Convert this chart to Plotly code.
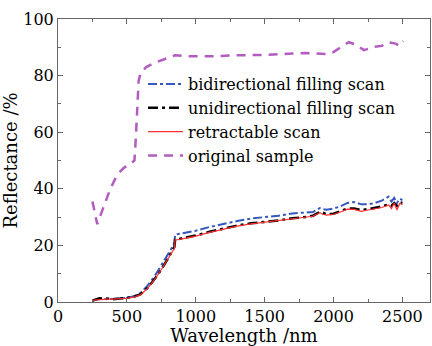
import plotly.graph_objects as go

# ---- data ----
wl_scan = [250, 280, 300, 350, 400, 450, 500, 550, 600, 650, 700, 750, 800, 830, 845,
           850, 870, 900, 950, 1000, 1100, 1200, 1300, 1400, 1500, 1600, 1700, 1800,
           1850, 1900, 1920, 1950, 2000, 2050, 2100, 2150, 2200, 2250, 2300, 2350,
           2400, 2420, 2440, 2460, 2480, 2500]
bidirectional = [0.5, 0.9, 1.1, 1.0, 1.0, 1.2, 1.5, 2.0, 3.2, 5.8, 9.0, 12.8, 17.0, 19.5, 21.0,
                 23.8, 24.0, 24.2, 24.6, 25.2, 26.5, 27.6, 28.6, 29.5, 30.0, 30.5, 31.3, 31.5,
                 31.8, 33.2, 32.8, 32.6, 33.0, 33.8, 35.0, 35.3, 34.5, 34.5, 35.0, 35.8,
                 37.2, 35.5, 36.8, 35.0, 36.5, 36.0]
unidirectional = [0.5, 1.0, 1.3, 1.2, 1.0, 1.2, 1.4, 1.8, 2.8, 5.0, 8.0, 11.5, 15.5, 18.0, 19.5,
                  22.0, 22.2, 22.5, 23.0, 23.5, 24.8, 26.0, 27.0, 27.8, 28.3, 28.8, 29.6, 30.0,
                  30.5, 31.8, 31.6, 31.0, 31.2, 32.0, 33.0, 33.0, 32.5, 32.8, 33.2, 33.8,
                  34.5, 34.0, 35.0, 34.0, 35.2, 35.0]
retractable = [0.6, 0.8, 0.9, 1.0, 1.0, 1.1, 1.3, 1.7, 2.6, 4.8, 7.8, 11.5, 15.5, 18.0, 19.0,
               22.0, 22.0, 22.3, 22.8, 23.3, 24.6, 25.8, 26.8, 27.6, 28.2, 28.7, 29.4, 29.8,
               30.3, 31.6, 31.0, 30.7, 31.0, 31.8, 32.8, 32.7, 32.0, 32.5, 33.0, 33.4,
               34.3, 33.0, 35.0, 32.5, 34.8, 34.5]

wl_orig = [250, 285, 330, 380, 430, 480, 520, 555, 565, 575, 585, 600, 640, 700, 780, 850,
           950, 1100, 1300, 1500, 1700, 1800, 1950, 2000, 2050, 2110, 2160, 2220, 2300,
           2350, 2400, 2450, 2480, 2505]
original = [35.5, 27.5, 33.5, 40, 45, 47.5, 48.5, 50, 58, 70, 78, 81, 83, 84.5, 86, 87.2,
            86.8, 86.8, 87.2, 87.3, 87.8, 88, 87.6, 88.3, 90, 91.8, 91, 89, 90.2,
            90.5, 91.8, 91.3, 90.5, 92.2]

x_ticks = [0, 500, 1000, 1500, 2000, 2500]
y_ticks = [0, 20, 40, 60, 80, 100]

FONT = "DejaVu Serif"

fig = go.Figure()
fig.add_trace(go.Scatter(x=wl_scan, y=bidirectional, mode="lines",
                         name="bidirectional filling scan",
                         line=dict(color="#3558C0", width=2, dash="dashdot")))
fig.add_trace(go.Scatter(x=wl_scan, y=unidirectional, mode="lines",
                         name="unidirectional filling scan",
                         line=dict(color="black", width=2.5, dash="10px,4px,3px,4px")))
fig.add_trace(go.Scatter(x=wl_scan, y=retractable, mode="lines",
                         name="retractable scan",
                         line=dict(color="#FF3030", width=1.2)))
fig.add_trace(go.Scatter(x=wl_orig, y=original, mode="lines",
                         name="original sample",
                         line=dict(color="#B25CC0", width=2.5, dash="9px,7px")))

axis_common = dict(
    showline=True, linecolor="#666666", linewidth=1, mirror="ticks",
    ticks="inside", ticklen=5, tickcolor="#666666", tickwidth=1,
    showgrid=False, zeroline=False, automargin=False,
    tickfont=dict(family=FONT, size=16, color="black"),
)

fig.update_layout(
    width=432, height=346,
    margin=dict(l=58, r=2, t=19, b=44),
    paper_bgcolor="white", plot_bgcolor="white",
    font=dict(family=FONT, color="black"),
    xaxis=dict(range=[0, 2700], tickvals=x_ticks, ticktext=[str(v) for v in x_ticks],
               minor=dict(ticks="inside", ticklen=3, dtick=250, tickcolor="#666666"),
               title=dict(text="Wavelength /nm", font=dict(family=FONT, size=18), standoff=15),
               **axis_common),
    yaxis=dict(range=[0, 100], tickvals=y_ticks, ticktext=[str(v) for v in y_ticks],
               minor=dict(ticks="inside", ticklen=3, dtick=10, tickcolor="#666666"),
               title=dict(text="Reflectance /%", font=dict(family=FONT, size=18), standoff=0),
               **axis_common),
    legend=dict(x=0.2285, y=0.83, xanchor="left", yanchor="top",
                bgcolor="rgba(0,0,0,0)", borderwidth=0,
                font=dict(family=FONT, size=16, color="black"),
                itemwidth=35, tracegroupgap=0),
    showlegend=True,
)

fig.write_html("out.html")
